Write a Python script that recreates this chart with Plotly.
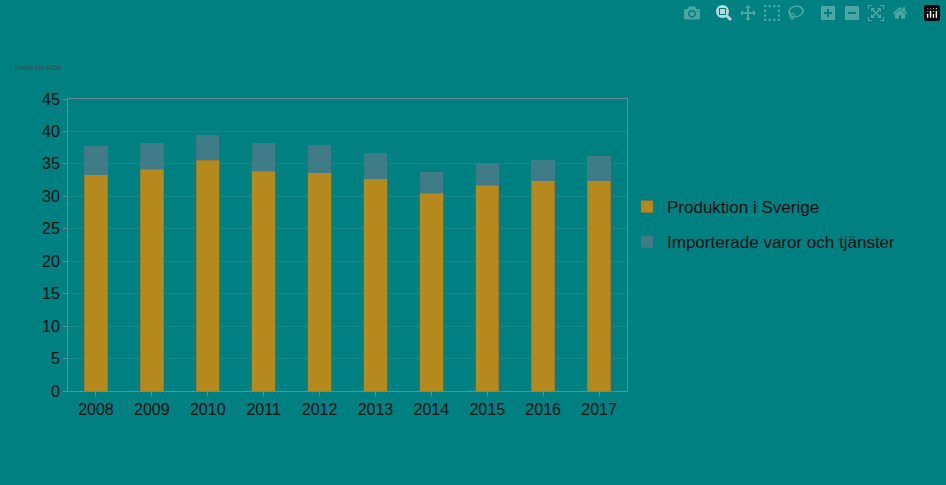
import plotly.graph_objects as go

years = ["2008","2009","2010","2011","2012","2013","2014","2015","2016","2017"]
produktion = [33.3,34.2,35.6,33.9,33.6,32.7,30.5,31.7,32.4,32.4]
import_ = [4.4,4.0,3.8,4.3,4.3,4.0,3.2,3.4,3.2,3.8]

fig = go.Figure()
fig.add_bar(x=years, y=produktion, name="Produktion i Sverige", legendgroup="b",
            marker=dict(color="#B5891E", line=dict(color="#8a6a40", width=0.5)))
fig.add_bar(x=years, y=import_, name="Importerade varor och tjänster", legendgroup="a",
            marker=dict(color="#3F7C88", line=dict(width=0)))
fig.update_layout(
    barmode="stack", bargap=0.58,
    width=946, height=485,
    paper_bgcolor="#008080", plot_bgcolor="#008080",
    margin=dict(l=68, r=319, t=99, b=94),
    font=dict(family="Liberation Sans, Arial", color="#111", size=16),
    legend=dict(x=1.0, y=0.57, xanchor="left", yanchor="middle", traceorder="reversed+grouped",
                font=dict(size=17, color="#111"), bgcolor="rgba(0,0,0,0)", tracegroupgap=10, itemwidth=30),
    annotations=[dict(text="Tusen ton NOx", xref="paper", yref="paper", x=-56/559, y=(485-94-68)/292,
                      showarrow=False, font=dict(size=7, color="#444"), xanchor="left", yanchor="middle")],
    showlegend=True,
)
fig.update_yaxes(range=[0,45], dtick=5, gridcolor="#178a88", showline=True, linecolor="#6a8a9a", mirror=True,
                 ticks="outside", tickcolor="#6a8a9a", ticklen=4, zeroline=False, tickfont=dict(size=16, color="#111"))
fig.update_xaxes(showline=True, linecolor="#6a8a9a", mirror=True, ticks="outside", tickcolor="#6a8a9a",
                 ticklen=4, tickfont=dict(size=16, color="#111"))
fig.write_html("out.html", post_script="document.body.style.margin='0';document.body.style.background='#008080';")
